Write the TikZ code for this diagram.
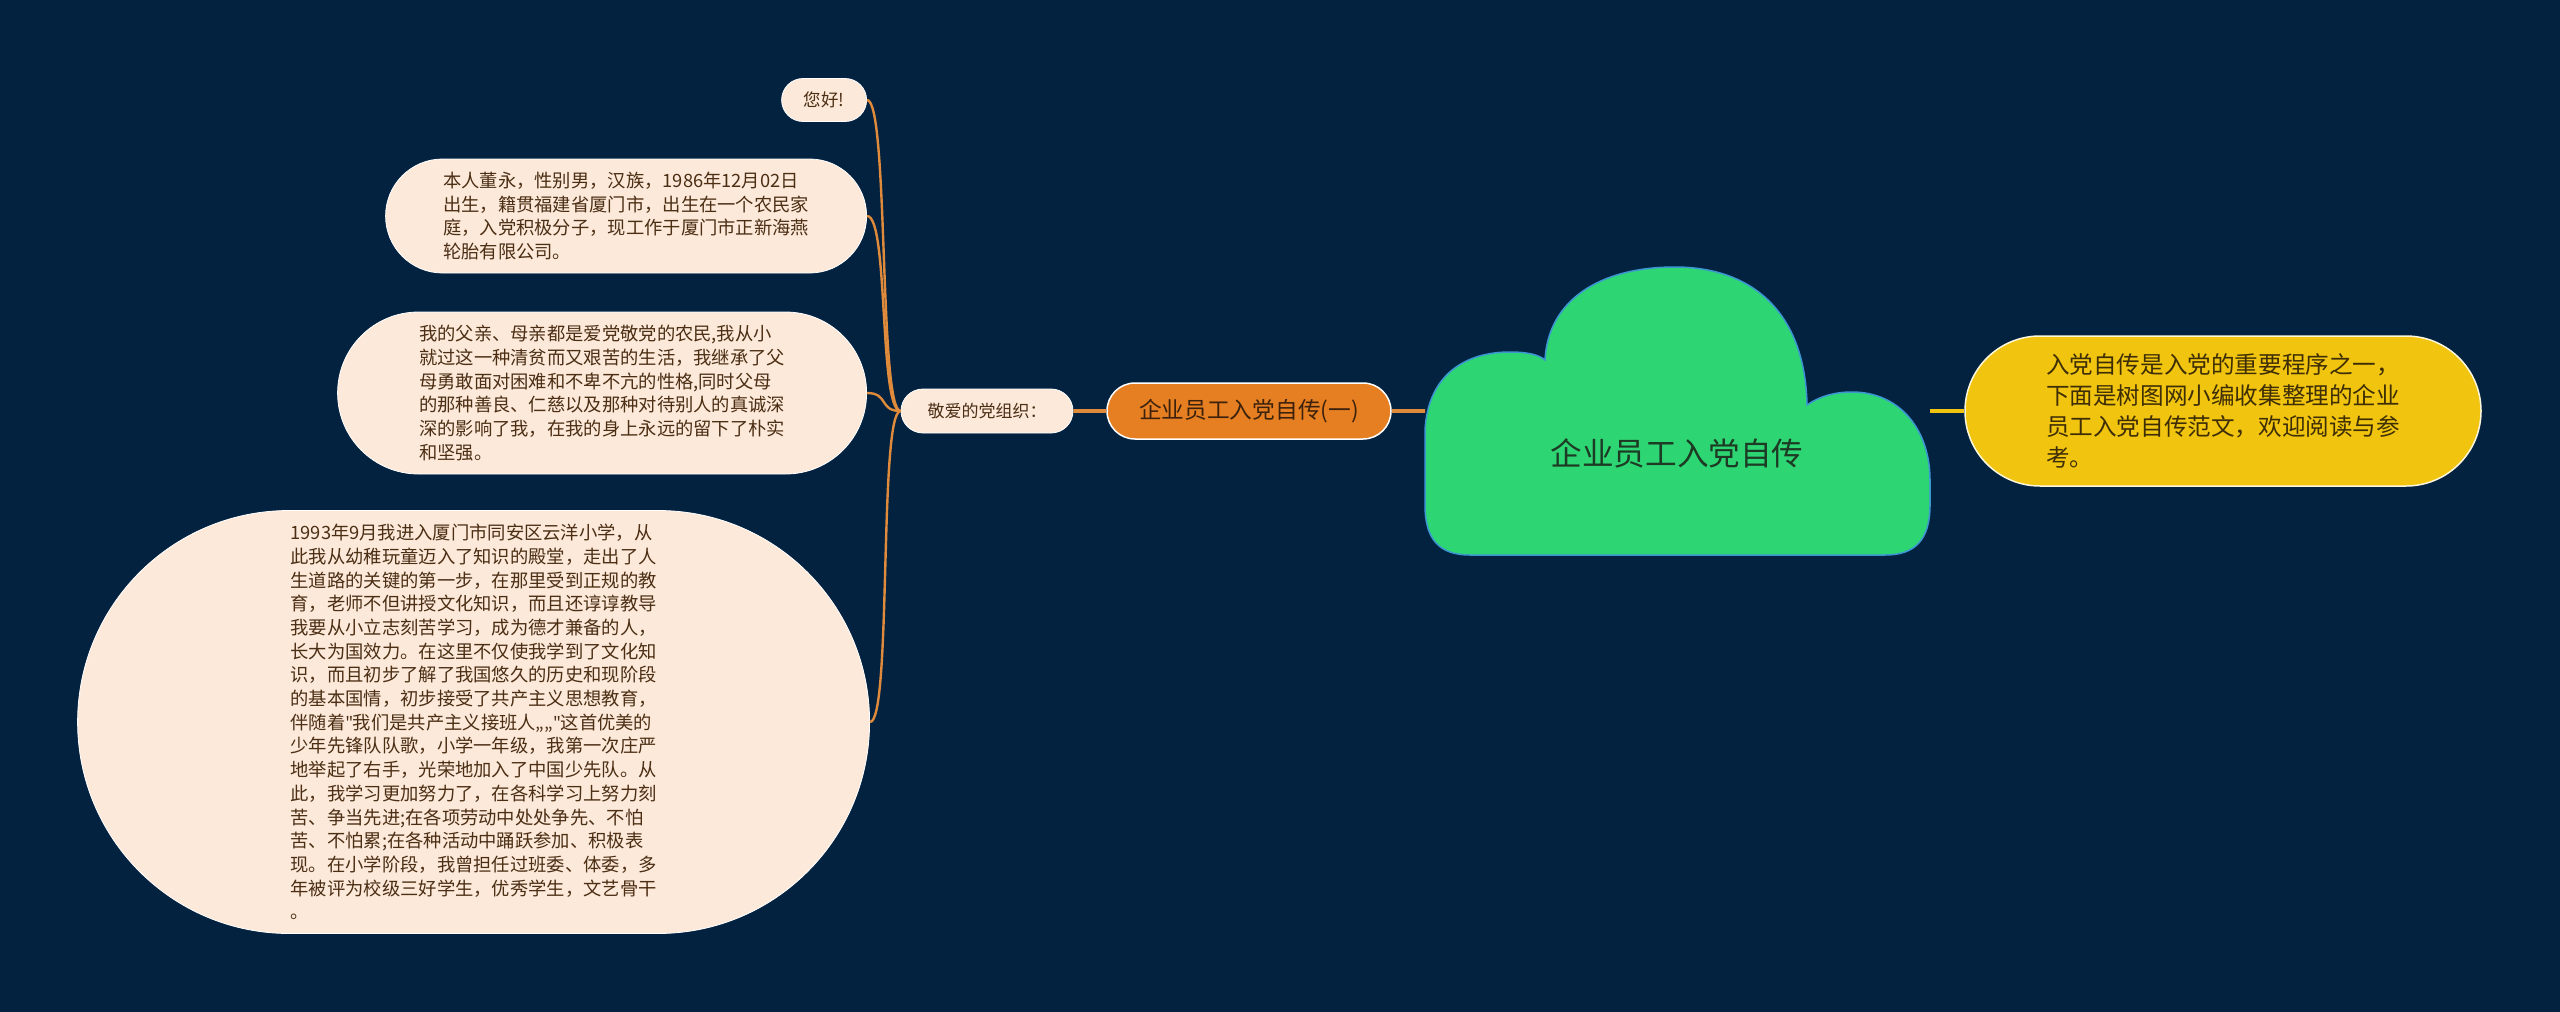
\documentclass[tikz,border=0pt]{standalone}
\usepackage{fontspec}
\setmainfont{Noto Sans CJK SC}
\newfontfamily\latinfont{Noto Sans}
\usepackage{tikz}
\usetikzlibrary{shapes.misc}
\usetikzlibrary{positioning}

\definecolor{bgnavy}{RGB}{2,34,64}
\definecolor{peach}{RGB}{252,233,217}
\definecolor{leaftext}{RGB}{75,46,20}
\definecolor{suborange}{RGB}{230,126,34}
\definecolor{subtext}{RGB}{60,34,12}
\definecolor{linkorange}{RGB}{224,138,60}
\definecolor{cloudgreen}{RGB}{46,213,115}
\definecolor{cloudedge}{RGB}{60,150,210}
\definecolor{roottext}{RGB}{28,58,36}
\definecolor{sumyellow}{RGB}{241,196,15}
\definecolor{sumtext}{RGB}{62,46,6}

\newcommand{\sq}{{\latinfont"}}

\tikzset{
  leaf/.style={rounded rectangle, fill=peach, draw=white, line width=0.8pt,
    text=leaftext, align=left, inner xsep=0pt, inner ysep=0pt,
    font=\fontsize{18.3}{23.7}\selectfont},
  subnode/.style={rounded rectangle, fill=suborange, draw=white, line width=1.5pt,
    text=subtext, inner xsep=0pt, inner ysep=0pt,
    font=\fontsize{22.7}{28}\selectfont},
  sumnode/.style={rounded rectangle, fill=sumyellow, draw=white!85!sumyellow, line width=1.5pt,
    text=sumtext, align=left, inner xsep=0pt, inner ysep=0pt,
    font=\fontsize{23.6}{31}\selectfont},
  branch/.style={draw=linkorange, line width=2.4pt},
  trunk/.style={draw=linkorange, line width=3.6pt},
}

\begin{document}
\begin{tikzpicture}[x=1pt, y=-1pt]
    \useasboundingbox (0,0) rectangle (2560,1012);
    \fill[bgnavy] (0,0) rectangle (2560,1012);

    % central cloud
    \draw[fill=cloudgreen, draw=cloudedge, line width=1.5pt]
        (1470,555) .. controls (1438,555) and (1425,538) .. (1425,505)
        -- (1425,430) .. controls (1428,375) and (1465,352) .. (1510,352)
        .. controls (1525,352) and (1538,354) .. (1545,360)
        .. controls (1548,300) and (1600,267) .. (1675,267)
        .. controls (1750,267) and (1805,310) .. (1807,405)
        .. controls (1820,396) and (1835,392) .. (1852,392)
        .. controls (1900,392) and (1930,430) .. (1930,480)
        -- (1930,505) .. controls (1930,540) and (1915,555) .. (1885,555)
        -- cycle;
    \node[text=roottext, font=\fontsize{31.6}{36}\selectfont] (root) at (1677,453) {企业员工入党自传};
    \coordinate (rootL) at (1425,411);
    \coordinate (rootR) at (1930,411);

    % right side
    \node[sumnode, minimum width=516pt, minimum height=150pt] (summary) at (2223,411)
        {入党自传是入党的重要程序之一，\\
         下面是树图网小编收集整理的企业\\
         员工入党自传范文，欢迎阅读与参\\
         考。};
    \draw[draw=sumyellow, line width=3.6pt] (rootR) -- (summary);

    % left side
    \node[subnode, minimum width=284pt, minimum height=56pt] (sub) at (1249,411) {企业员工入党自传(一)};
    \node[leaf, minimum width=172pt, minimum height=44pt, font=\fontsize{17}{20}\selectfont] (party) at (987,411) {敬爱的党组织：};
    \draw[trunk] (rootL) -- (sub);
    \draw[trunk] (sub) -- (party);

    \node[leaf, anchor=east, minimum width=85pt, minimum height=43pt, font=\fontsize{17.5}{20}\selectfont] (hello) at (867,100) {您好!};
    \node[leaf, anchor=east, minimum width=481pt, minimum height=114pt] (intro) at (867,216)
        {本人董永，性别男，汉族，1986年12月02日\\
         出生，籍贯福建省厦门市，出生在一个农民家\\
         庭，入党积极分子，现工作于厦门市正新海燕\\
         轮胎有限公司。};
    \node[leaf, anchor=east, minimum width=529pt, minimum height=162pt] (parents) at (867,393)
        {我的父亲、母亲都是爱党敬党的农民,我从小\\
         就过这一种清贫而又艰苦的生活，我继承了父\\
         母勇敢面对困难和不卑不亢的性格,同时父母\\
         的那种善良、仁慈以及那种对待别人的真诚深\\
         深的影响了我，在我的身上永远的留下了朴实\\
         和坚强。};
    \node[leaf, anchor=east, minimum width=792pt, minimum height=423pt] (school) at (870,722)
        {1993年9月我进入厦门市同安区云洋小学，从\\
         此我从幼稚玩童迈入了知识的殿堂，走出了人\\
         生道路的关键的第一步，在那里受到正规的教\\
         育，老师不但讲授文化知识，而且还谆谆教导\\
         我要从小立志刻苦学习，成为德才兼备的人，\\
         长大为国效力。在这里不仅使我学到了文化知\\
         识，而且初步了解了我国悠久的历史和现阶段\\
         的基本国情，初步接受了共产主义思想教育，\\
         伴随着\sq 我们是共产主义接班人„„\sq 这首优美的\\
         少年先锋队队歌，小学一年级，我第一次庄严\\
         地举起了右手，光荣地加入了中国少先队。从\\
         此，我学习更加努力了，在各科学习上努力刻\\
         苦、争当先进;在各项劳动中处处争先、不怕\\
         苦、不怕累;在各种活动中踊跃参加、积极表\\
         现。在小学阶段，我曾担任过班委、体委，多\\
         年被评为校级三好学生，优秀学生，文艺骨干\\
         。};

    % branches to the leaves
    \foreach \leafname in {hello, intro, parents, school}
        \draw[branch] (party.west) .. controls +(-22,0) and +(22,0) .. (\leafname.east);
\end{tikzpicture}
\end{document}
